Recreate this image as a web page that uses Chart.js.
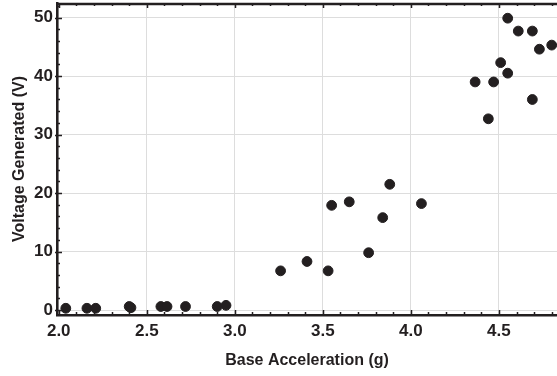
<!DOCTYPE html>
<html><head><meta charset="utf-8">
<script src="https://cdn.jsdelivr.net/npm/chart.js@4/dist/chart.umd.min.js"></script>
<style>html,body{margin:0;padding:0;background:#fff}#wrap{width:557px;height:376px}</style>
</head><body><div id="wrap"><canvas id="c" width="557" height="376"></canvas></div>
<script>
const accelG = [2.04,2.16,2.21,2.40,2.41,2.58,2.615,2.72,2.90,2.95,3.26,3.41,3.53,3.55,3.65,3.76,3.84,3.88,4.06,4.365,4.44,4.47,4.51,4.55,4.55,4.61,4.69,4.69,4.73,4.80];
const voltageV = [0.3,0.3,0.3,0.6,0.4,0.6,0.6,0.6,0.6,0.8,6.7,8.3,6.7,17.9,18.5,9.8,15.8,21.5,18.2,39.0,32.7,39.0,42.3,49.9,40.5,47.7,47.7,36.0,44.6,45.3];
const xTicks = [2.0,2.5,3.0,3.5,4.0,4.5];
const yTicks = [0,10,20,30,40,50];
const xTitle = 'Base Acceleration (g)';
const yTitle = 'Voltage Generated (V)';

const dark = '#231f20';
const font = {family:'"Liberation Sans", Arial, sans-serif', size:17, weight:'bold'};
const tfont = {family:'"Liberation Sans", Arial, sans-serif', size:16, weight:'bold'};

const frame = {
  id:'frame',
  afterDatasetsDraw(chart){
    const {ctx, chartArea:a, scales:{x,y}} = chart;
    ctx.save();
    ctx.strokeStyle = dark;
    ctx.lineWidth = 1.5;
    ctx.beginPath();
    for (let v = 2.0; v <= 4.83; v += 0.1) {
      const px = Math.round(x.getPixelForValue(v)) + 0.5;
      const major = Math.abs(v*2 - Math.round(v*2)) < 1e-6;
      const L = major ? 5 : 3;
      ctx.moveTo(px, a.bottom); ctx.lineTo(px, a.bottom - L);
      ctx.moveTo(px, a.top); ctx.lineTo(px, a.top + L);
    }
    for (let v = 0; v <= 52; v += 2) {
      const py = Math.round(y.getPixelForValue(v)) + 0.5;
      const major = v % 10 === 0;
      ctx.moveTo(a.left - (major?2:0), py); ctx.lineTo(a.left + (major?5:3), py);
    }
    ctx.stroke();
    ctx.lineWidth = 2.5;
    ctx.beginPath();
    ctx.moveTo(a.left - 1, a.top + 1); ctx.lineTo(a.right, a.top + 1);
    ctx.stroke();
    ctx.restore();
  }
};

new Chart(document.getElementById('c'), {
  type:'scatter',
  data:{datasets:[{data: accelG.map((v,i)=>({x:v, y:voltageV[i]})), backgroundColor:dark, borderColor:dark, pointRadius:4.9, pointHoverRadius:4.9}]},
  options:{
    responsive:false, animation:false,
    layout:{autoPadding:false, padding:{top:3, right:0, left:0, bottom:0}},
    plugins:{legend:{display:false}, tooltip:{enabled:false}},
    scales:{
      x:{type:'linear', min:1.99, max:4.83,
        afterBuildTicks(s){ s.ticks = xTicks.map(v=>({value:v})); },
        afterFit(s){ s.height = 61; s.paddingLeft = 0; s.paddingRight = 0; },
        grid:{color:'#dddddd', drawTicks:false, lineWidth:1},
        border:{color:dark, width:2.5},
        ticks:{color:dark, font, padding:6, maxRotation:0, callback:v=>v.toFixed(1)},
        title:{display:true, text:xTitle, color:dark, font:tfont, padding:{top:0,bottom:6}}
      },
      y:{type:'linear', min:-0.85, max:52.5,
        afterBuildTicks(s){ s.ticks = yTicks.map(v=>({value:v})); },
        afterFit(s){ s.width = 57; s.paddingTop = 0; s.paddingBottom = 0; },
        grid:{color:'#dddddd', drawTicks:false, lineWidth:1},
        border:{color:dark, width:2.5},
        ticks:{color:dark, font, padding:4, callback:v=>String(v)},
        title:{display:true, text:yTitle, color:dark, font:tfont, padding:{top:10,bottom:0}}
      }
    }
  },
  plugins:[frame]
});
</script></body></html>
